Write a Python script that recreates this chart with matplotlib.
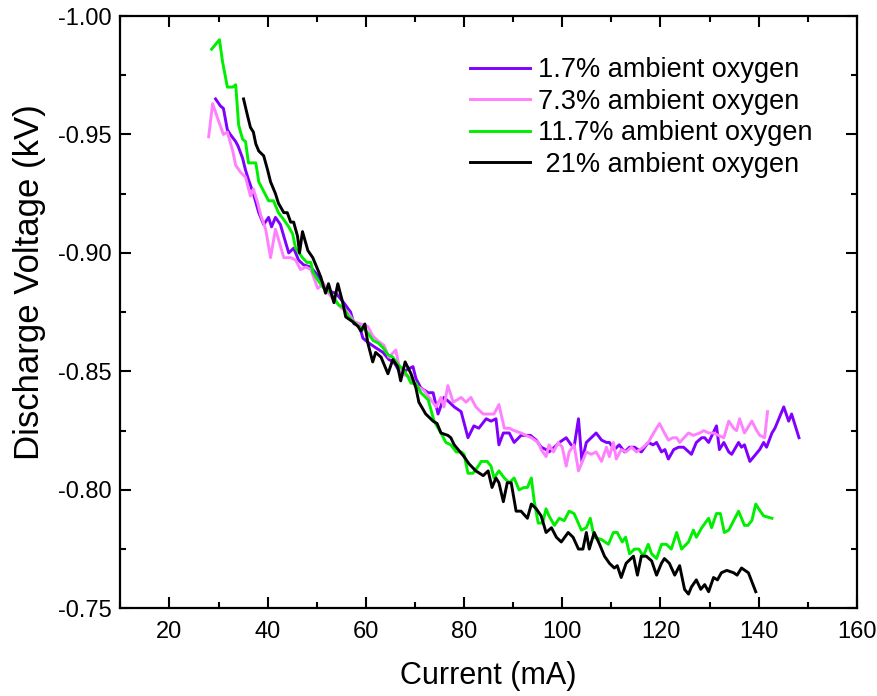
import matplotlib
matplotlib.use("Agg")
import matplotlib.pyplot as plt
from matplotlib.ticker import MultipleLocator, FormatStrFormatter

# Discharge voltage vs current for four ambient oxygen levels.
# Values (current in mA, voltage in kV).

labels = ["1.7% ambient oxygen", "7.3% ambient oxygen",
          "11.7% ambient oxygen", " 21% ambient oxygen"]
colors = ["#8000ff", "#ff80ff", "#00ee00", "#000000"]

# 1.7 %
cur_1 = [29.4, 30.4, 31.0, 31.8, 32.4, 33.5, 34.0, 34.9, 35.5, 36.1, 37.1, 38.2,
         39.2, 40.2, 40.8, 41.6, 42.6, 43.3, 44.3, 45.3, 46.3, 47.3, 48.8, 50.0,
         51.0, 52.2, 53.9, 55.5, 56.9, 57.6, 58.6, 59.4, 60.6, 62.0, 63.5, 64.7,
         65.7, 67.1, 68.6, 69.6, 70.2, 71.2, 72.7, 73.7, 74.7, 75.9, 77.0, 78.0,
         79.4, 80.8, 82.0, 83.0, 84.5, 85.5, 86.5, 87.1, 88.0, 89.2, 90.2, 91.6,
         93.5, 94.7, 95.7, 96.7, 97.3, 98.4, 99.4, 100.8, 101.8, 102.4, 103.3,
         104.0, 104.9, 105.9, 106.9, 108.0, 109.0, 109.6, 110.6, 111.6, 112.7,
         113.7, 114.7, 116.1, 117.5, 118.5, 119.2, 120.2, 120.9, 121.6, 122.7,
         123.7, 124.7, 126.3, 127.3, 128.4, 129.0, 129.8, 131.4, 132.0, 132.9,
         133.9, 134.5, 135.9, 136.5, 137.1, 138.2, 140.2, 141.0, 141.6, 142.7,
         143.3, 145.1, 146.1, 146.7, 148.2]
volt_1 = [-0.965, -0.962, -0.961, -0.952, -0.950, -0.947, -0.945, -0.940, -0.935,
          -0.931, -0.925, -0.917, -0.912, -0.915, -0.911, -0.915, -0.912, -0.907,
          -0.900, -0.902, -0.897, -0.895, -0.894, -0.891, -0.888, -0.884, -0.883,
          -0.879, -0.875, -0.870, -0.870, -0.864, -0.862, -0.860, -0.858, -0.855,
          -0.854, -0.849, -0.851, -0.852, -0.847, -0.843, -0.841, -0.841, -0.832,
          -0.839, -0.837, -0.835, -0.833, -0.822, -0.827, -0.826, -0.830, -0.829,
          -0.830, -0.819, -0.824, -0.824, -0.820, -0.823, -0.823, -0.821, -0.818,
          -0.817, -0.816, -0.818, -0.820, -0.822, -0.819, -0.818, -0.830, -0.812,
          -0.820, -0.822, -0.824, -0.821, -0.820, -0.820, -0.817, -0.819, -0.816,
          -0.818, -0.818, -0.816, -0.820, -0.819, -0.820, -0.816, -0.817, -0.813,
          -0.817, -0.818, -0.818, -0.815, -0.820, -0.822, -0.822, -0.820, -0.827,
          -0.817, -0.820, -0.816, -0.815, -0.820, -0.818, -0.819, -0.812, -0.817,
          -0.820, -0.818, -0.824, -0.826, -0.835, -0.829, -0.832, -0.822]

# 7.3 %
cur_2 = [28.0, 28.8, 29.8, 31.0, 31.8, 32.9, 33.5, 34.5, 35.5, 36.5, 37.1, 38.0,
         38.6, 39.6, 40.6, 41.6, 42.6, 43.3, 44.7, 45.7, 46.7, 47.8, 48.8, 50.2,
         51.4, 52.4, 53.5, 54.9, 56.3, 57.6, 59.0, 60.4, 61.4, 62.4, 63.7, 64.7,
         66.1, 67.1, 68.6, 70.2, 71.8, 72.9, 74.3, 75.3, 75.9, 76.7, 77.8, 79.4,
         80.4, 81.4, 82.4, 83.9, 85.0, 86.1, 87.1, 88.2, 89.2, 90.2, 91.6, 92.6,
         93.7, 95.1, 95.7, 96.7, 97.3, 98.2, 99.2, 100.0, 100.8, 101.4, 102.4,
         103.3, 104.3, 104.9, 105.9, 106.9, 108.0, 109.0, 109.6, 110.4, 111.0,
         112.0, 113.0, 114.1, 115.1, 116.5, 117.5, 118.6, 119.8, 120.8, 121.6,
         122.5, 123.3, 123.9, 125.7, 126.7, 128.0, 128.8, 129.8, 130.8, 131.8,
         132.9, 133.9, 134.9, 135.5, 136.1, 137.1, 138.6, 139.6, 140.2, 141.2,
         141.8]
volt_2 = [-0.949, -0.963, -0.957, -0.950, -0.951, -0.943, -0.937, -0.934, -0.932,
          -0.924, -0.927, -0.921, -0.916, -0.910, -0.898, -0.910, -0.903, -0.898,
          -0.898, -0.897, -0.893, -0.894, -0.893, -0.885, -0.887, -0.883, -0.880,
          -0.877, -0.875, -0.871, -0.870, -0.869, -0.865, -0.863, -0.861, -0.856,
          -0.859, -0.849, -0.848, -0.844, -0.842, -0.839, -0.835, -0.839, -0.835,
          -0.844, -0.837, -0.839, -0.837, -0.839, -0.835, -0.832, -0.832, -0.832,
          -0.836, -0.826, -0.826, -0.825, -0.824, -0.823, -0.822, -0.820, -0.817,
          -0.814, -0.819, -0.816, -0.820, -0.818, -0.810, -0.816, -0.819, -0.808,
          -0.813, -0.816, -0.815, -0.816, -0.812, -0.818, -0.814, -0.820, -0.813,
          -0.817, -0.816, -0.818, -0.816, -0.818, -0.820, -0.824, -0.828, -0.824,
          -0.821, -0.822, -0.822, -0.820, -0.824, -0.823, -0.824, -0.825, -0.824,
          -0.824, -0.823, -0.822, -0.829, -0.826, -0.825, -0.830, -0.824, -0.829,
          -0.825, -0.823, -0.822, -0.833]

# 11.7 %
cur_3 = [28.6, 30.2, 30.8, 31.8, 32.9, 33.5, 34.1, 34.9, 35.5, 36.1, 37.0, 37.6,
         38.2, 39.2, 40.2, 41.2, 42.2, 43.3, 44.3, 45.1, 45.7, 47.1, 48.0, 48.8,
         49.2, 50.4, 51.5, 52.5, 53.5, 54.5, 55.5, 56.5, 57.5, 58.5, 59.5, 60.5,
         61.5, 62.5, 63.5, 64.5, 65.5, 66.5, 67.5, 68.5, 69.2, 70.2, 71.2, 72.7,
         73.9, 75.3, 76.3, 77.3, 78.4, 79.4, 80.0, 80.8, 81.8, 82.9, 83.5, 84.7,
         85.5, 86.1, 87.1, 88.2, 89.2, 90.2, 91.2, 92.2, 92.9, 93.7, 94.3, 95.1,
         96.0, 96.7, 97.3, 98.4, 99.4, 100.4, 101.4, 102.4, 103.9, 104.9, 105.7,
         106.5, 108.0, 109.4, 110.4, 111.2, 112.2, 112.9, 113.7, 114.7, 115.6,
         116.5, 117.5, 118.2, 119.2, 120.2, 121.2, 122.2, 123.3, 124.3, 125.7,
         126.7, 127.3, 128.4, 129.8, 130.4, 131.4, 132.2, 133.0, 133.9, 134.9,
         135.9, 137.1, 137.8, 138.6, 139.4, 140.0, 141.0, 142.7]
volt_3 = [-0.986, -0.990, -0.981, -0.970, -0.970, -0.971, -0.954, -0.948, -0.947,
          -0.938, -0.938, -0.938, -0.930, -0.926, -0.922, -0.922, -0.917, -0.914,
          -0.911, -0.908, -0.902, -0.898, -0.896, -0.896, -0.892, -0.888, -0.885,
          -0.884, -0.881, -0.878, -0.877, -0.873, -0.871, -0.869, -0.868, -0.866,
          -0.863, -0.862, -0.860, -0.857, -0.856, -0.853, -0.851, -0.848, -0.845,
          -0.845, -0.841, -0.838, -0.829, -0.824, -0.820, -0.819, -0.816, -0.816,
          -0.815, -0.807, -0.807, -0.810, -0.812, -0.812, -0.810, -0.805, -0.808,
          -0.805, -0.803, -0.805, -0.800, -0.801, -0.801, -0.805, -0.795, -0.786,
          -0.786, -0.792, -0.789, -0.785, -0.788, -0.787, -0.791, -0.790, -0.783,
          -0.784, -0.788, -0.780, -0.779, -0.777, -0.782, -0.782, -0.778, -0.780,
          -0.773, -0.775, -0.775, -0.772, -0.777, -0.773, -0.771, -0.777, -0.777,
          -0.775, -0.782, -0.775, -0.778, -0.783, -0.780, -0.784, -0.788, -0.784,
          -0.790, -0.790, -0.782, -0.783, -0.787, -0.791, -0.785, -0.785, -0.787,
          -0.794, -0.792, -0.789, -0.788]

# 21 %
cur_4 = [35.1, 35.9, 36.5, 37.1, 37.6, 38.2, 39.2, 40.0, 40.6, 41.6, 42.2, 43.3,
         44.0, 44.7, 45.3, 46.1, 46.5, 47.1, 48.2, 49.2, 50.2, 50.8, 51.8, 52.4,
         53.5, 54.3, 55.3, 55.9, 57.3, 58.4, 59.0, 59.8, 60.4, 61.4, 62.0, 63.1,
         64.5, 65.5, 66.5, 67.1, 68.0, 69.2, 70.2, 70.8, 72.2, 73.7, 74.5, 75.3,
         76.7, 77.3, 78.0, 78.8, 80.0, 81.0, 82.4, 83.9, 84.9, 85.7, 86.5, 87.1,
         88.0, 88.8, 89.6, 90.6, 91.6, 92.9, 93.7, 94.7, 95.7, 96.7, 97.8, 98.8,
         99.8, 101.2, 102.2, 103.3, 104.2, 104.9, 105.5, 106.5, 107.6, 108.6,
         109.6, 110.6, 111.2, 112.0, 113.0, 114.5, 115.3, 116.1, 117.1, 118.2,
         119.2, 120.2, 120.8, 121.8, 122.9, 123.9, 124.9, 125.7, 126.3, 127.3,
         128.2, 129.0, 129.8, 130.8, 131.6, 132.4, 133.5, 134.9, 135.6, 136.5,
         137.9, 139.4]
volt_4 = [-0.965, -0.958, -0.953, -0.951, -0.946, -0.943, -0.941, -0.935, -0.930,
          -0.925, -0.921, -0.917, -0.917, -0.913, -0.913, -0.907, -0.900, -0.909,
          -0.901, -0.898, -0.893, -0.890, -0.883, -0.887, -0.879, -0.887, -0.879,
          -0.873, -0.871, -0.869, -0.867, -0.870, -0.862, -0.854, -0.858, -0.856,
          -0.849, -0.855, -0.852, -0.846, -0.854, -0.849, -0.843, -0.837, -0.832,
          -0.829, -0.828, -0.824, -0.823, -0.822, -0.819, -0.817, -0.814, -0.811,
          -0.808, -0.806, -0.808, -0.801, -0.805, -0.803, -0.795, -0.803, -0.803,
          -0.791, -0.791, -0.788, -0.794, -0.792, -0.789, -0.782, -0.784, -0.780,
          -0.778, -0.782, -0.780, -0.775, -0.775, -0.782, -0.775, -0.782, -0.777,
          -0.772, -0.769, -0.767, -0.768, -0.763, -0.769, -0.772, -0.764, -0.772,
          -0.772, -0.770, -0.764, -0.769, -0.771, -0.769, -0.764, -0.768, -0.758,
          -0.756, -0.759, -0.762, -0.758, -0.760, -0.757, -0.763, -0.762, -0.765,
          -0.766, -0.765, -0.764, -0.767, -0.765, -0.757]

plt.rcParams['font.family'] = ['Liberation Sans', 'DejaVu Sans']
plt.rcParams['axes.unicode_minus'] = False

fig = plt.figure(figsize=(8.78, 6.96), dpi=100)
ax = fig.add_axes([0.137, 0.126, 0.839, 0.851])

series = [(cur_1, volt_1), (cur_2, volt_2), (cur_3, volt_3), (cur_4, volt_4)]
for (x, y), lab, col in zip(series, labels, colors):
    ax.plot(x, y, color=col, lw=2.1, label=lab)

ax.set_xlim(10, 160)
ax.set_ylim(-0.75, -1.00)   # voltage axis runs upward toward -1.00

ax.xaxis.set_major_locator(MultipleLocator(20))
ax.xaxis.set_minor_locator(MultipleLocator(10))
ax.yaxis.set_major_locator(MultipleLocator(0.05))
ax.yaxis.set_minor_locator(MultipleLocator(0.025))
ax.yaxis.set_major_formatter(FormatStrFormatter('%.2f'))

ax.tick_params(which='both', direction='in', top=True, right=True,
               width=1.5, labelsize=17)
ax.tick_params(axis='x', pad=9)
ax.tick_params(axis='y', pad=6)
ax.tick_params(which='major', length=8)
ax.tick_params(which='minor', length=4)
for sp in ax.spines.values():
    sp.set_linewidth(1.6)

ax.set_xlabel('Current (mA)', fontsize=22, labelpad=13)
ax.set_ylabel('Discharge Voltage (kV)', fontsize=25)
# the y label sits a little above the middle of the axis in the original
ax.yaxis.set_label_coords(-0.101, 0.55)

ax.legend(loc='upper left', bbox_to_anchor=(0.475, 0.93), frameon=False,
          fontsize=19.5, handlelength=2.2, handletextpad=0.3, labelspacing=0.2,
          borderpad=0, borderaxespad=0)

fig.savefig('out.png', dpi=100)
